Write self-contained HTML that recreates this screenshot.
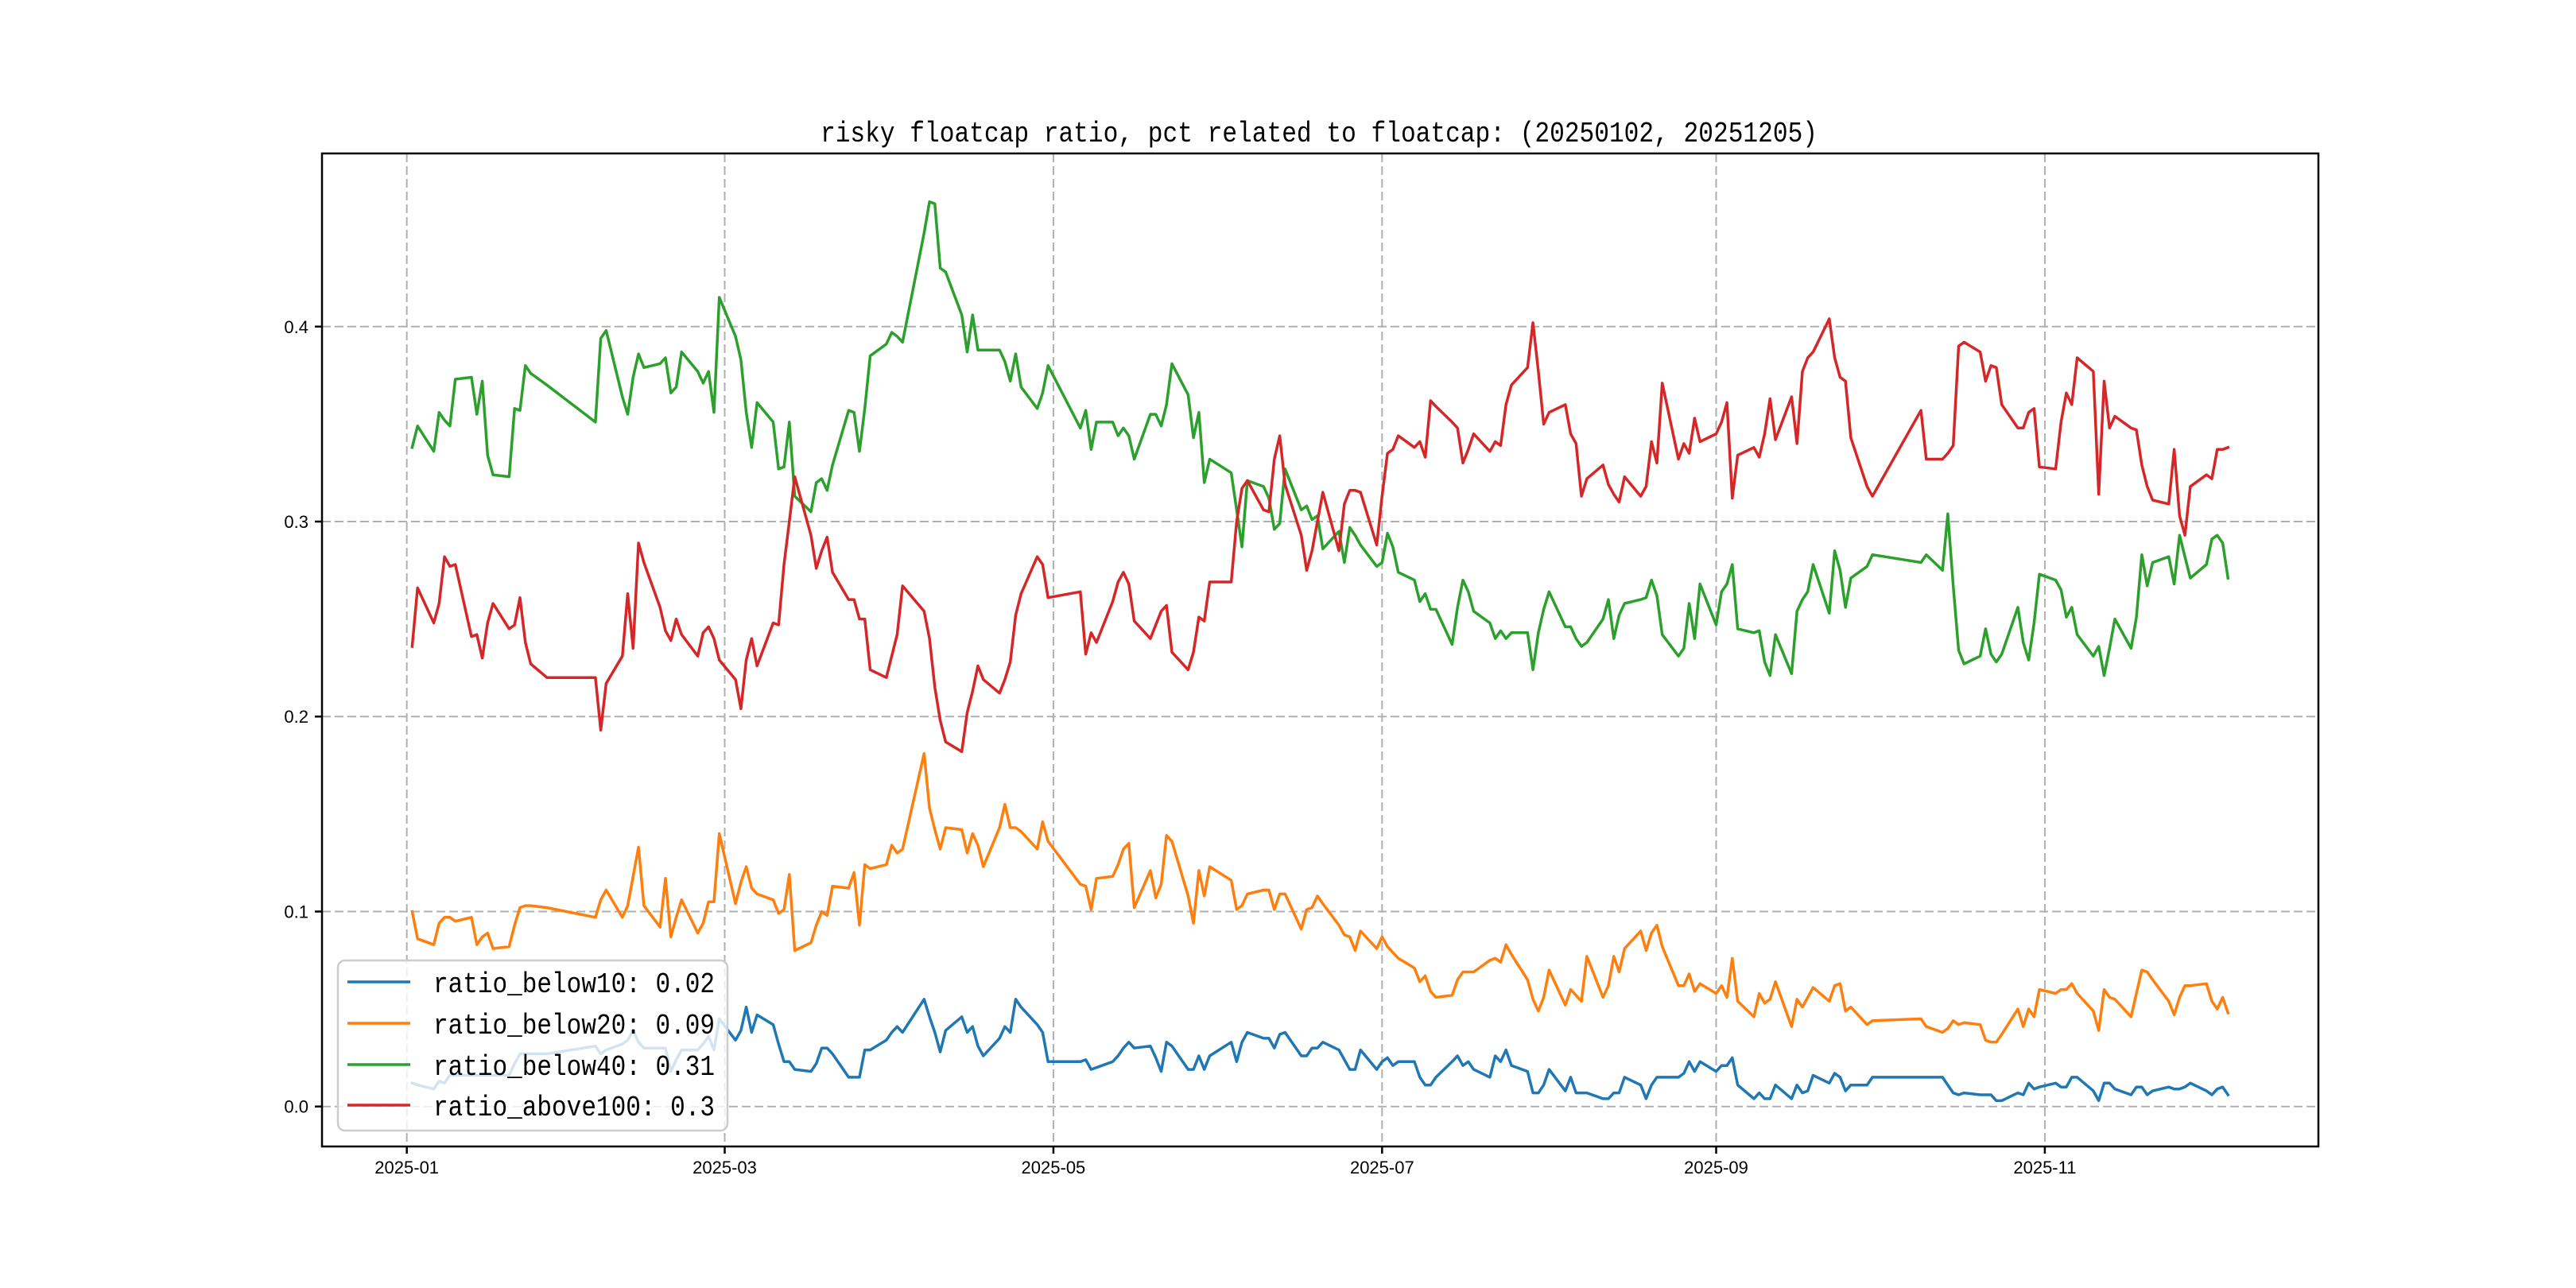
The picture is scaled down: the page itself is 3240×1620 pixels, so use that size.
<!DOCTYPE html>
<html><head><meta charset="utf-8"><style>
html,body{margin:0;padding:0;background:#fff;}
svg{display:block;}
</style></head><body>
<svg id="chart" width="3240" height="1620" viewBox="0 0 3240 1620" xmlns="http://www.w3.org/2000/svg">
<rect x="0" y="0" width="3240" height="1620" fill="#fff"/>
<text x="1659" y="178" text-anchor="middle" font-family="Liberation Mono, monospace" font-size="36" textLength="1254" lengthAdjust="spacingAndGlyphs" fill="#000">risky floatcap ratio, pct related to floatcap: (20250102, 20251205)</text>
<g id="grid"></g>
<g id="series"></g>
<rect x="405" y="193" width="2511" height="1249" fill="none" stroke="#000" stroke-width="2.5"/>
<g id="axes"></g>
<g id="legend"></g>
</svg>
<script>
// trading days: day offset from 2025-01-01
const tradeDays = [1,2,5,6,7,8,9,12,13,14,15,16,19,20,21,22,23,26,35,36,37,40,41,42,43,44,47,48,49,50,51,54,55,56,57,58,61,62,63,64,65,68,69,70,71,72,75,76,77,78,79,82,83,84,85,86,89,
90,91,92,96,97,98,99,100,103,104,105,106,107,110,111,112,113,114,117,118,119,125,126,127,128,131,132,133,134,135,138,139,140,141,142,145,146,147,148,149,153,154,155,156,159,160,161,162,163,166,167,168,169,170,173,174,175,176,177,180,181,182,
183,184,187,188,189,190,191,194,195,196,197,198,201,202,203,204,205,208,209,210,211,212,215,216,217,218,219,222,223,224,225,226,229,230,231,232,233,236,237,238,239,240,243,244,245,246,247,250,251,252,253,254,257,258,259,260,261,264,265,266,267,268,271,272,
281,282,285,286,287,288,289,292,293,294,295,296,299,300,301,302,303,306,307,308,309,310,313,314,315,316,317,320,321,322,323,324,327,328,329,330,331,334,335,336,337,338];

const below10 = [0.012,0.011,0.009,0.013,0.012,0.016,0.016,0.016,0.016,0.016,0.016,0.016,0.016,0.022,0.027,0.027,0.027,0.027,0.031,0.027,0.029,0.032,0.034,0.039,0.033,0.030,0.030,0.030,0.018,0.024,0.029,0.029,0.032,0.036,0.029,0.045,0.034,0.039,0.051,0.038,0.047,0.042,0.032,0.023,0.023,0.019,0.018,0.022,0.030,0.030,0.027,0.015,0.015,0.015,0.029,0.029,0.034,
0.038,0.041,0.038,0.055,0.046,0.038,0.028,0.039,0.046,0.038,0.041,0.031,0.026,0.035,0.041,0.038,0.055,0.051,0.042,0.038,0.023,0.023,0.024,0.019,0.020,0.023,0.026,0.030,0.033,0.030,0.031,0.025,0.018,0.033,0.031,0.019,0.019,0.026,0.019,0.026,0.033,0.023,0.033,0.038,0.035,0.035,0.030,0.037,0.038,0.026,0.026,0.030,0.030,0.033,0.029,0.024,0.019,0.019,0.029,0.019,0.023,0.025,
0.021,0.023,0.023,0.015,0.011,0.011,0.015,0.023,0.026,0.021,0.023,0.019,0.015,0.026,0.023,0.029,0.021,0.018,0.007,0.007,0.011,0.019,0.008,0.015,0.007,0.007,0.007,0.004,0.004,0.007,0.007,0.015,0.011,0.004,0.011,0.015,0.015,0.015,0.017,0.023,0.018,0.023,0.018,0.021,0.021,0.025,0.011,0.004,0.007,0.004,0.004,0.011,0.004,0.011,0.007,0.008,0.016,0.012,0.017,0.015,0.008,0.011,0.011,0.015,
0.015,0.015,0.015,0.011,0.007,0.006,0.007,0.006,0.006,0.006,0.003,0.003,0.007,0.006,0.012,0.009,0.010,0.012,0.010,0.010,0.015,0.015,0.008,0.003,0.012,0.012,0.009,0.006,0.010,0.010,0.006,0.008,0.010,0.009,0.009,0.010,0.012,0.008,0.006,0.009,0.010,0.006];

const below20 = [0.100,0.086,0.083,0.094,0.097,0.097,0.095,0.097,0.083,0.087,0.089,0.081,0.082,0.093,0.102,0.103,0.103,0.102,0.097,0.106,0.111,0.097,0.103,0.118,0.133,0.103,0.092,0.117,0.087,0.097,0.106,0.089,0.094,0.105,0.105,0.140,0.104,0.115,0.123,0.112,0.109,0.106,0.099,0.101,0.119,0.080,0.084,0.093,0.100,0.098,0.113,0.112,0.120,0.093,0.124,0.122,0.124,
0.134,0.130,0.132,0.181,0.153,0.142,0.132,0.143,0.142,0.130,0.140,0.134,0.123,0.143,0.155,0.143,0.143,0.141,0.132,0.146,0.136,0.114,0.113,0.101,0.117,0.118,0.124,0.132,0.135,0.102,0.121,0.107,0.114,0.139,0.136,0.108,0.094,0.121,0.108,0.123,0.116,0.101,0.103,0.109,0.111,0.111,0.101,0.109,0.109,0.091,0.101,0.102,0.108,0.104,0.093,0.088,0.087,0.080,0.090,0.081,0.087,0.082,
0.079,0.076,0.071,0.064,0.067,0.059,0.056,0.057,0.065,0.069,0.069,0.069,0.075,0.076,0.074,0.083,0.078,0.065,0.055,0.049,0.056,0.070,0.052,0.060,0.057,0.054,0.077,0.056,0.062,0.077,0.069,0.081,0.090,0.080,0.089,0.093,0.082,0.062,0.062,0.068,0.059,0.063,0.058,0.062,0.056,0.076,0.054,0.046,0.058,0.053,0.055,0.064,0.041,0.055,0.051,0.056,0.061,0.054,0.062,0.063,0.049,0.051,0.042,0.044,
0.045,0.041,0.038,0.040,0.044,0.042,0.043,0.042,0.034,0.033,0.033,0.037,0.050,0.041,0.050,0.046,0.060,0.058,0.060,0.060,0.063,0.058,0.049,0.039,0.060,0.056,0.055,0.046,0.058,0.070,0.069,0.065,0.054,0.047,0.056,0.062,0.062,0.063,0.054,0.050,0.056,0.048];

const below40 = [0.338,0.349,0.336,0.356,0.352,0.349,0.373,0.374,0.355,0.372,0.334,0.324,0.323,0.358,0.357,0.380,0.376,0.370,0.351,0.394,0.398,0.364,0.355,0.374,0.386,0.379,0.381,0.384,0.366,0.369,0.387,0.377,0.371,0.377,0.356,0.415,0.395,0.383,0.356,0.338,0.361,0.351,0.327,0.328,0.351,0.313,0.305,0.320,0.322,0.316,0.329,0.357,0.356,0.336,0.358,0.385,0.391,
0.397,0.395,0.392,0.448,0.464,0.463,0.430,0.428,0.406,0.387,0.406,0.388,0.388,0.388,0.382,0.372,0.386,0.369,0.358,0.366,0.380,0.348,0.357,0.337,0.351,0.351,0.344,0.348,0.344,0.332,0.355,0.355,0.349,0.360,0.381,0.365,0.343,0.356,0.320,0.332,0.325,0.306,0.287,0.321,0.318,0.312,0.296,0.299,0.327,0.306,0.308,0.301,0.303,0.286,0.295,0.279,0.297,0.293,0.288,0.277,0.279,0.294,
0.287,0.274,0.270,0.259,0.263,0.255,0.255,0.237,0.256,0.270,0.264,0.254,0.248,0.240,0.244,0.240,0.243,0.243,0.224,0.243,0.255,0.264,0.246,0.246,0.240,0.236,0.238,0.250,0.260,0.240,0.252,0.258,0.260,0.261,0.270,0.262,0.242,0.231,0.235,0.258,0.240,0.268,0.247,0.264,0.268,0.278,0.245,0.243,0.244,0.228,0.221,0.242,0.222,0.254,0.260,0.264,0.278,0.253,0.285,0.275,0.256,0.271,0.277,0.283,
0.279,0.283,0.275,0.304,0.267,0.234,0.227,0.231,0.245,0.232,0.228,0.232,0.256,0.238,0.229,0.248,0.273,0.270,0.265,0.251,0.256,0.242,0.231,0.236,0.221,0.235,0.250,0.235,0.251,0.283,0.267,0.279,0.282,0.268,0.293,0.282,0.271,0.278,0.291,0.293,0.289,0.271];

const above100 = [0.236,0.266,0.248,0.258,0.282,0.277,0.278,0.241,0.242,0.230,0.248,0.258,0.245,0.247,0.261,0.238,0.227,0.220,0.220,0.193,0.217,0.231,0.263,0.235,0.289,0.279,0.256,0.244,0.239,0.250,0.242,0.231,0.243,0.246,0.240,0.229,0.219,0.204,0.229,0.240,0.226,0.248,0.247,0.278,0.300,0.323,0.293,0.276,0.285,0.292,0.274,0.260,0.260,0.250,0.250,0.224,0.220,
0.231,0.242,0.267,0.254,0.240,0.215,0.198,0.187,0.182,0.202,0.213,0.226,0.219,0.212,0.219,0.228,0.252,0.263,0.282,0.278,0.261,0.264,0.232,0.243,0.238,0.259,0.269,0.274,0.268,0.249,0.240,0.247,0.254,0.257,0.233,0.224,0.233,0.251,0.249,0.269,0.269,0.300,0.317,0.321,0.306,0.305,0.332,0.344,0.319,0.293,0.275,0.285,0.300,0.315,0.285,0.309,0.316,0.316,0.315,0.288,0.313,0.335,
0.337,0.344,0.338,0.341,0.333,0.362,0.359,0.351,0.348,0.330,0.337,0.345,0.336,0.341,0.339,0.360,0.370,0.379,0.402,0.377,0.350,0.356,0.360,0.345,0.340,0.313,0.322,0.329,0.319,0.314,0.310,0.323,0.313,0.318,0.341,0.330,0.371,0.332,0.340,0.335,0.353,0.341,0.345,0.351,0.361,0.312,0.334,0.338,0.333,0.345,0.363,0.342,0.364,0.340,0.377,0.384,0.387,0.404,0.384,0.374,0.372,0.343,0.318,0.313,
0.357,0.332,0.332,0.335,0.339,0.390,0.392,0.387,0.372,0.380,0.379,0.360,0.348,0.348,0.356,0.358,0.328,0.327,0.351,0.366,0.360,0.384,0.377,0.314,0.372,0.348,0.354,0.348,0.347,0.329,0.318,0.311,0.309,0.337,0.303,0.293,0.318,0.324,0.322,0.337,0.337,0.338];

const seriesNames = ["ratio_below10","ratio_below20","ratio_below40","ratio_above100"];
const legendValues = ["0.02","0.09","0.31","0.3"];
const yTicks = [0.0,0.1,0.2,0.3,0.4];
const yTickLabels = ["0.0","0.1","0.2","0.3","0.4"];
const xTickDays = [0,59,120,181,243,304];
const xTickLabels = ["2025-01","2025-03","2025-05","2025-07","2025-09","2025-11"];

const NS = "http://www.w3.org/2000/svg";
const PL = 405, PR = 2916, PT = 193, PB = 1442;
const XMIN = -15.74, XMAX = 354.77, YMIN = -0.0205, YMAX = 0.4888;
function xScale(d){ return PL + (d - XMIN) / (XMAX - XMIN) * (PR - PL); }
function yScale(v){ return PB - (v - YMIN) / (YMAX - YMIN) * (PB - PT); }
function mk(tag, attrs, parent){
  const el = document.createElementNS(NS, tag);
  for (const k in attrs) el.setAttribute(k, attrs[k]);
  parent.appendChild(el);
  return el;
}
const grid = document.getElementById('grid');
const axes = document.getElementById('axes');
const seriesG = document.getElementById('series');
const legend = document.getElementById('legend');

yTicks.forEach((v, i) => {
  const y = yScale(v);
  const g = mk('line', {x1:PL, x2:PR, y1:y, y2:y, stroke:'#b0b0b0', 'stroke-width':2, 'stroke-dasharray':'11,5'}, grid);
  
  
  const t = mk('line', {x1:PL-9, x2:PL, y1:y, y2:y, stroke:'#000', 'stroke-width':2.5}, axes);
  
  
  const lb = mk('text', {x:388, y:y+8, 'text-anchor':'end', 'font-family':'Liberation Sans, sans-serif', 'font-size':22}, axes);
  lb.textContent = yTickLabels[i];
  
  
});
xTickDays.forEach((d, i) => {
  const x = xScale(d);
  const g = mk('line', {x1:x, x2:x, y1:PT, y2:PB, stroke:'#b0b0b0', 'stroke-width':2, 'stroke-dasharray':'11,5'}, grid);
  
  
  const t = mk('line', {x1:x, x2:x, y1:PB, y2:PB+9, stroke:'#000', 'stroke-width':2.5}, axes);
  
  
  const lb = mk('text', {x:x, y:1476, 'text-anchor':'middle', 'font-family':'Liberation Sans, sans-serif', 'font-size':22}, axes);
  lb.textContent = xTickLabels[i];
  
  
});

const allSeries = [below10, below20, below40, above100];
const colors = ['#1f77b4','#ff7f0e','#2ca02c','#d62728'];
allSeries.forEach((vals, si) => {
  const n = Math.min(vals.length, tradeDays.length);
  let d = '';
  for (let i = 0; i < n; i++) {
    d += (i ? 'L' : 'M') + xScale(tradeDays[i]).toFixed(1) + ',' + yScale(vals[i]).toFixed(1);
  }
  const p = mk('path', {d:d, fill:'none', stroke:colors[si], 'stroke-width':3.5, 'stroke-linejoin':'round', 'stroke-linecap':'square'}, seriesG);
  
  
});

const box = mk('rect', {x:425, y:1208, width:490, height:214, rx:9, fill:'#fff', 'fill-opacity':0.8, stroke:'#cccccc', 'stroke-width':2.5}, legend);


const rowY = [1235, 1287, 1339, 1390];
seriesNames.forEach((nm, i) => {
  const ln = mk('line', {x1:437, x2:516, y1:rowY[i], y2:rowY[i], stroke:colors[i], 'stroke-width':3.5}, legend);
  
  
  const tx = mk('text', {x:545, y:rowY[i]+13, 'font-family':'Liberation Mono, monospace', 'font-size':36, textLength:354, lengthAdjust:'spacingAndGlyphs'}, legend);
  tx.textContent = nm + ': ' + legendValues[i];
  
  
});
</script>
</body></html>
